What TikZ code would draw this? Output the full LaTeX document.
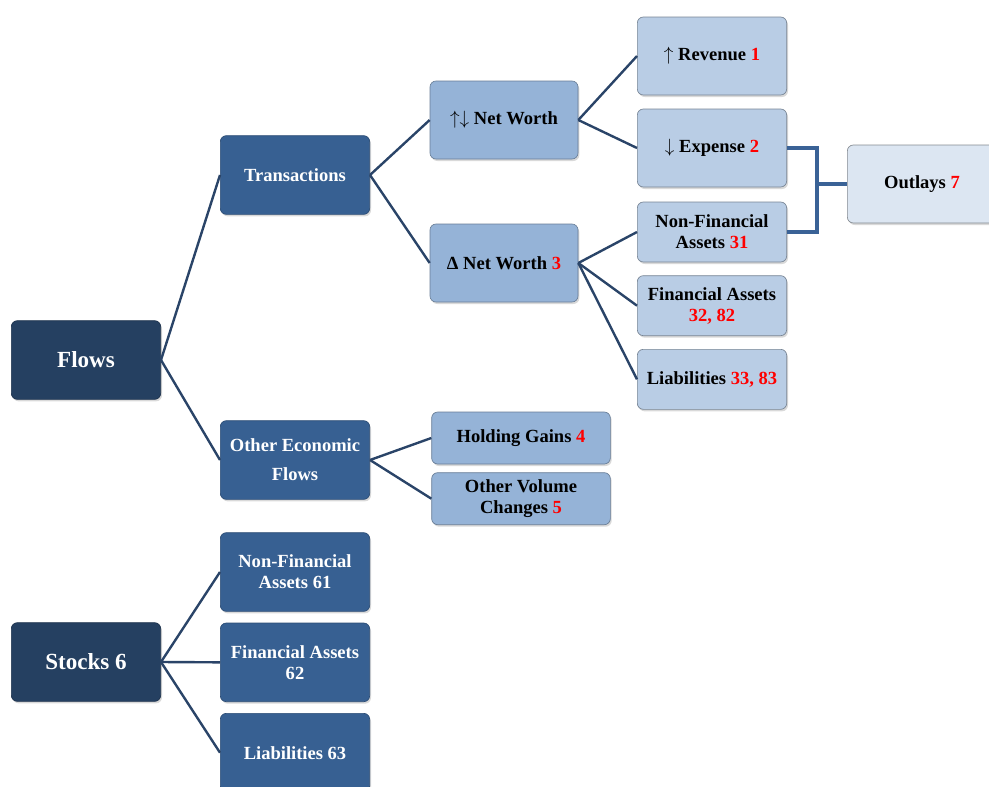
\documentclass[tikz,border=0pt]{standalone}
\usepackage{fontspec}
\setmainfont{Liberation Serif}
\usetikzlibrary{positioning,shadows,calc}
\definecolor{DarkColor}{HTML}{254061}
\definecolor{MidColor}{HTML}{376092}
\definecolor{SoftColor}{HTML}{95B3D7}
\definecolor{PaleColor}{HTML}{B9CDE5}
\definecolor{FaintColor}{HTML}{DCE6F2}
\definecolor{LinkColor}{HTML}{2A4468}
\definecolor{BracketColor}{HTML}{3A6296}
\definecolor{CodeRed}{HTML}{FF0000}
\newcommand{\refcode}[1]{\textcolor{CodeRed}{#1}}

\begin{document}
\begin{tikzpicture}[x=0.75pt,y=-0.75pt,
  font=\bfseries\fontsize{13.9}{15.7}\selectfont,
  box/.style={rounded corners=4.5pt,align=center,line width=0.5pt,
    drop shadow={shadow xshift=1pt,shadow yshift=-1.5pt,opacity=0.3}},
  rootbox/.style={box,fill=DarkColor,draw=DarkColor!80!black,text=white,
    minimum width=112pt,minimum height=59pt,font=\bfseries\fontsize{17.3}{19}\selectfont},
  midbox/.style={box,fill=MidColor,draw=MidColor!80!black,text=white,
    minimum width=112pt,minimum height=59pt},
  softbox/.style={box,fill=SoftColor,draw=SoftColor!70!black,
    minimum width=111pt,minimum height=58.5pt},
  palebox/.style={box,fill=PaleColor,draw=PaleColor!65!black,
    minimum width=112pt,minimum height=58.5pt},
  faintbox/.style={box,fill=FaintColor,draw=FaintColor!60!black,
    minimum width=112pt,minimum height=58.5pt},
  link/.style={LinkColor,line width=1.8pt},
  bracket/.style={BracketColor,line width=2.3pt}]
  \useasboundingbox (0,0) rectangle (989,786);

  % left column
  \node[rootbox] (flows) at (86,360) {Flows};
  \node[rootbox] (stocks) at (86,662) {Stocks 6};

  % second column
  \node[midbox] (trans) at (295,175) {Transactions};
  \node[midbox] (oef) at (295,460) {Other Economic\\[6pt]Flows};
  \node[midbox] (nfa61) at (295,572) {Non-Financial\\Assets 61};
  \node[midbox,below=8.25pt of nfa61] (fa62) {Financial Assets\\62};
  \node[midbox,below=8.25pt of fa62] (li63) {Liabilities 63};

  % third column
  \node[softbox] (nw) at (504,120) {$\uparrow\downarrow$ Net Worth};
  \node[softbox] (dnw) at (504,263) {Δ Net Worth \refcode{3}};
  \node[softbox,minimum width=134pt,minimum height=39pt] (hg) at (521,438) {Holding Gains \refcode{4}};
  \node[softbox,minimum width=134pt,minimum height=39pt,below=6pt of hg] (ovc) {Other Volume\\Changes \refcode{5}};

  % fourth column
  \node[palebox] (rev) at (712,56) {$\uparrow$ Revenue \refcode{1}};
  \node[palebox] (exp) at (712,148) {$\downarrow$ Expense \refcode{2}};
  \node[palebox,minimum height=45pt] (nfa31) at (712,232) {Non-Financial\\Assets \refcode{31}};
  \node[palebox,minimum height=45pt,below=9.75pt of nfa31] (fa32) {Financial Assets\\\refcode{32, 82}};
  \node[palebox,minimum height=45pt,below=9.75pt of fa32] (li33) {Liabilities \refcode{33, 83}};

  \node[faintbox] (outl) at (922,184) {Outlays \refcode{7}};

  % tree links
  \draw[link] (flows.east) -- (trans.west);
  \draw[link] (flows.east) -- (oef.west);
  \draw[link] (stocks.east) -- (nfa61.west);
  \draw[link] (stocks.east) -- (fa62.west);
  \draw[link] (stocks.east) -- (li63.west);
  \draw[link] (trans.east) -- (nw.west);
  \draw[link] (trans.east) -- (dnw.west);
  \draw[link] (oef.east) -- (hg.west);
  \draw[link] (oef.east) -- (ovc.west);
  \draw[link] (nw.east) -- (rev.west);
  \draw[link] (nw.east) -- (exp.west);
  \draw[link] (dnw.east) -- (nfa31.west);
  \draw[link] (dnw.east) -- (fa32.west);
  \draw[link] (dnw.east) -- (li33.west);

  % outlays bracket
  \coordinate (brk) at (817,184);
  \draw[bracket] (exp.east) -| (brk) |- (nfa31.east);
  \draw[bracket] (brk) -- (outl.west);
\end{tikzpicture}
\end{document}
